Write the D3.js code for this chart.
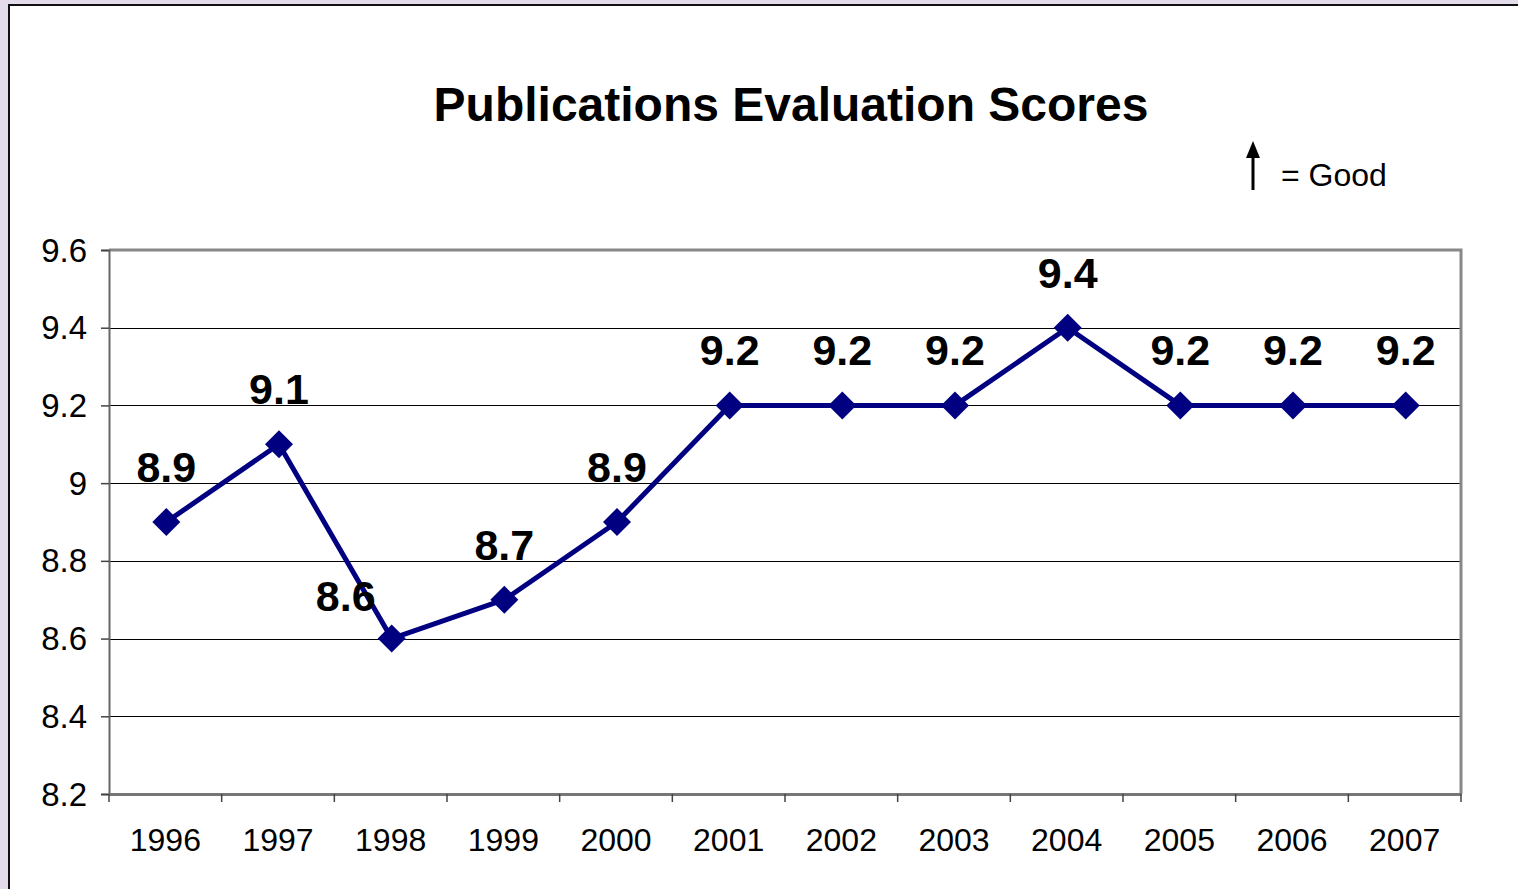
<!DOCTYPE html>
<html>
<head>
<meta charset="utf-8">
<script src="https://cdn.jsdelivr.net/npm/d3@7"></script>
<style>
  body { margin: 0; background: #e4dcea; }
  svg { display: block; }
</style>
</head>
<body>
<div id="chart"></div>
<script>
// Data
var years = ["1996", "1997", "1998", "1999", "2000", "2001", "2002", "2003", "2004", "2005", "2006", "2007"];
var scores = [8.9, 9.1, 8.6, 8.7, 8.9, 9.2, 9.2, 9.2, 9.4, 9.2, 9.2, 9.2];
var yTicks = [8.2, 8.4, 8.6, 8.8, 9, 9.2, 9.4, 9.6];

var width = 1518, height = 889;
var margin = {top: 250, right: 57, bottom: 95, left: 109};
var innerWidth = width - margin.left - margin.right;
var innerHeight = height - margin.top - margin.bottom;
var font = "Arial, 'Liberation Sans', sans-serif";

var svg = d3.select("#chart")
  .append("svg")
  .attr("width", width)
  .attr("height", height);

// White panel with black frame (goes past right and bottom edge)
svg.append("path")
  .attr("d", "M9," + height + " V5 H" + width + " V" + height + " Z")
  .attr("fill", "#fff");
svg.append("path")
  .attr("d", "M9," + height + " V5 H" + width)
  .attr("fill", "none")
  .attr("stroke", "#111")
  .attr("stroke-width", 2);

// Title
svg.append("text")
  .attr("x", 791).attr("y", 121)
  .attr("text-anchor", "middle")
  .attr("font-family", font)
  .attr("font-weight", "bold")
  .attr("font-size", 48)
  .text("Publications Evaluation Scores");

// "= Good" legend with arrow
svg.append("line")
  .attr("x1", 1253).attr("x2", 1253)
  .attr("y1", 190).attr("y2", 155)
  .attr("stroke", "#000").attr("stroke-width", 3);
svg.append("path")
  .attr("d", "M1253,141 L1246,158 L1260,158 Z")
  .attr("fill", "#000");
svg.append("text")
  .attr("x", 1281).attr("y", 186)
  .attr("font-family", font)
  .attr("font-size", 32)
  .text("= Good");

// Scales in page coordinates
var xScale = d3.scaleBand()
  .domain(years)
  .range([margin.left, margin.left + innerWidth])
  .padding(0);

var yScale = d3.scaleLinear()
  .domain([8.2, 9.6])
  .range([margin.top + innerHeight, margin.top]);

var x0 = margin.left, x1 = margin.left + innerWidth;
var y0 = margin.top + innerHeight, y1 = margin.top;

// Grid lines
svg.selectAll(".grid")
  .data(yTicks.filter(function(d){ return d > 8.2 && d < 9.6; }))
  .enter()
  .append("line")
  .attr("class", "grid")
  .attr("x1", x0).attr("x2", x1)
  .attr("y1", function(d){ return Math.round(yScale(d)) + 0.5; })
  .attr("y2", function(d){ return Math.round(yScale(d)) + 0.5; })
  .attr("stroke", "#000")
  .attr("stroke-width", 1);

// Plot border top and right
svg.append("path")
  .attr("d", "M" + x0 + "," + y1 + " H" + x1 + " V" + y0)
  .attr("fill", "none")
  .attr("stroke", "#888")
  .attr("stroke-width", 3);

// Y axis (line and ticks from d3, labels placed with the scale)
var yAxis = d3.axisLeft(yScale)
  .tickValues(yTicks)
  .tickSize(8);

var gY = svg.append("g")
  .attr("transform", "translate(" + x0 + ",0)")
  .call(yAxis);
gY.selectAll(".tick text").remove();
gY.select(".domain").attr("stroke", "#666").attr("stroke-width", 2);
gY.selectAll(".tick line").attr("stroke", "#444").attr("stroke-width", 1.5);

svg.selectAll(".ylbl")
  .data(yTicks)
  .enter()
  .append("text")
  .attr("class", "ylbl")
  .attr("x", x0 - 22)
  .attr("y", function(d){ return yScale(d); })
  .attr("dy", "0.35em")
  .attr("text-anchor", "end")
  .attr("font-family", font)
  .attr("font-size", 33)
  .text(function(d){ return d3.format("")(+d.toFixed(1)); });

// X axis with ticks between categories
var xAxis = d3.axisBottom(xScale).tickSize(0);
var gX = svg.append("g")
  .attr("transform", "translate(0," + y0 + ")")
  .call(xAxis);
gX.selectAll(".tick").remove();
gX.select(".domain").attr("stroke", "#777").attr("stroke-width", 3);

var bounds = years.map(function(d){ return xScale(d); }).concat([x1]);
gX.selectAll(".sep")
  .data(bounds)
  .enter()
  .append("line")
  .attr("class", "sep")
  .attr("x1", function(d){ return d; }).attr("x2", function(d){ return d; })
  .attr("y1", 0).attr("y2", 8)
  .attr("stroke", "#444")
  .attr("stroke-width", 1.5);

svg.selectAll(".xlbl")
  .data(years)
  .enter()
  .append("text")
  .attr("class", "xlbl")
  .attr("x", function(d){ return xScale(d) + xScale.bandwidth() / 2; })
  .attr("y", y0 + 57)
  .attr("text-anchor", "middle")
  .attr("font-family", font)
  .attr("font-size", 32)
  .text(function(d){ return d; });

// Series line
var cx = function(d, i){ return xScale(years[i]) + xScale.bandwidth() / 2 + 1; };
var line = d3.line()
  .x(cx)
  .y(function(d){ return yScale(d); });

svg.append("path")
  .datum(scores)
  .attr("d", line)
  .attr("fill", "none")
  .attr("stroke", "#000080")
  .attr("stroke-width", 5)
  .attr("stroke-linejoin", "round");

// Diamond markers
svg.selectAll(".dot")
  .data(scores)
  .enter()
  .append("path")
  .attr("class", "dot")
  .attr("d", "M0,-14 L14,0 L0,14 L-14,0 Z")
  .attr("transform", function(d, i){ return "translate(" + cx(d, i) + "," + yScale(d) + ")"; })
  .attr("fill", "#000080");

// Value labels (the 1998 label sits left of its point)
var labelDx = [0, 0, -46, 0, 0, 0, 0, 0, 0, 0, 0, 0];
var labelDy = [-40, -40, -28, -40, -40, -40, -40, -40, -40, -40, -40, -40];
svg.selectAll(".lbl")
  .data(scores)
  .enter()
  .append("text")
  .attr("class", "lbl")
  .attr("x", function(d, i){ return cx(d, i) + labelDx[i]; })
  .attr("y", function(d, i){ return yScale(d) + labelDy[i]; })
  .attr("text-anchor", "middle")
  .attr("font-family", font)
  .attr("font-weight", "bold")
  .attr("font-size", 43)
  .text(function(d){ return d.toFixed(1); });
</script>
</body>
</html>
